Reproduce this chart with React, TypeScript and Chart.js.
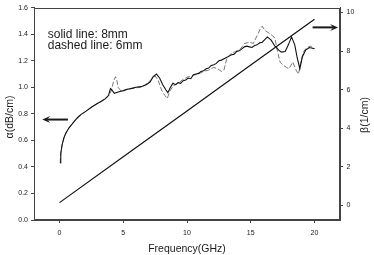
import React, { useEffect, useRef } from "react";
import { Chart, registerables } from "chart.js";

Chart.register(...registerables);

// Attenuation, 8 mm sample (solid)
const solidFreq = [
  0.05, 0.1, 0.2, 0.35, 0.5, 0.75, 1.0, 1.25, 1.5, 1.75, 2.0, 2.5, 3.0, 3.3, 3.6, 3.85,
  4.0, 4.15, 4.3, 4.6, 5.0, 5.3, 5.6, 6.0, 6.4, 6.8, 7.1, 7.35, 7.6, 7.85, 8.1, 8.35,
  8.5, 8.7, 8.9, 9.1, 9.3, 9.5, 9.7, 9.9, 10.1, 10.3, 10.5, 10.7, 10.9, 11.1, 11.3, 11.5,
  11.7, 11.9, 12.1, 12.3, 12.5, 12.7, 12.9, 13.1, 13.3, 13.5, 13.7, 13.9, 14.1, 14.3,
  14.5, 14.7, 14.9, 15.1, 15.3, 15.5, 15.7, 15.9, 16.1, 16.3, 16.6,
  16.9, 17.2, 17.4, 17.7, 17.95, 18.2, 18.45, 18.65, 18.85, 19.05, 19.3, 19.6, 20.0,
];
const solidAlpha = [
  0.43, 0.5, 0.565, 0.62, 0.655, 0.695, 0.725, 0.755, 0.78, 0.8, 0.815, 0.85, 0.88, 0.895, 0.915, 0.94,
  0.99, 0.975, 0.955, 0.965, 0.975, 0.985, 0.99, 1.0, 1.005, 1.02, 1.04, 1.08, 1.1, 1.07, 1.02, 0.98,
  0.96, 1.0, 1.03, 1.02, 1.035, 1.03, 1.05, 1.055, 1.07, 1.065, 1.095, 1.1, 1.105, 1.12, 1.125, 1.14,
  1.145, 1.165, 1.17, 1.18, 1.2, 1.205, 1.215, 1.225, 1.235, 1.245, 1.25, 1.27, 1.275, 1.29,
  1.305, 1.31, 1.305, 1.3, 1.315, 1.32, 1.335, 1.34, 1.36, 1.38, 1.355,
  1.31, 1.28, 1.265, 1.27, 1.32, 1.38, 1.32, 1.22, 1.14, 1.23, 1.28, 1.3, 1.29,
];

// Attenuation, 6 mm sample (dashed)
const dashedFreq = [
  0.05, 0.1, 0.2, 0.35, 0.5, 0.75, 1.0, 1.5, 2.0, 2.5, 3.0, 3.5, 3.85, 4.05, 4.25, 4.4,
  4.5, 4.6, 4.8, 5.1, 5.5, 6.0, 6.5, 6.9, 7.2, 7.5, 7.75, 8.0, 8.25, 8.45, 8.65, 8.9,
  9.3, 9.7, 10.1, 10.5, 10.9, 11.3, 11.7, 12.1, 12.4, 12.7, 12.9, 13.1, 13.4, 13.8, 14.2,
  14.5, 14.9, 15.2, 15.5, 15.75, 15.9, 16.1, 16.4, 16.7, 16.9, 17.1, 17.3, 17.5, 17.8,
  18.0, 18.3, 18.55, 18.75, 18.95, 19.15, 19.4, 19.7, 20.0,
];
const dashedAlpha = [
  0.43, 0.5, 0.565, 0.62, 0.655, 0.695, 0.725, 0.78, 0.815, 0.85, 0.88, 0.91, 0.935, 0.97, 1.05, 1.08,
  1.05, 1.0, 0.975, 0.975, 0.99, 0.995, 1.005, 1.03, 1.06, 1.085, 1.05, 0.98, 0.94, 0.915, 0.97, 1.01,
  1.03, 1.06, 1.08, 1.09, 1.1, 1.12, 1.13, 1.15, 1.14, 1.12, 1.13, 1.21, 1.25, 1.27, 1.29,
  1.33, 1.34, 1.33, 1.39, 1.44, 1.46, 1.43, 1.41, 1.39, 1.37, 1.27, 1.19, 1.17, 1.15,
  1.14, 1.19, 1.13, 1.1, 1.2, 1.27, 1.3, 1.31, 1.29,
];

// Phase constant (right axis)
const betaFreq = [0, 5, 10, 15, 20];
const betaValues = [0.15, 2.53, 4.9, 7.28, 9.65];

const xTicks = [0, 5, 10, 15, 20];
const alphaTicks = [0, 0.2, 0.4, 0.6, 0.8, 1.0, 1.2, 1.4, 1.6];
const betaTicks = [0, 2, 4, 6, 8, 10];

const noteLines = ["solid line: 8mm", "dashed line: 6mm"];

const FONT = '"Liberation Sans", Arial, sans-serif';
const AXIS = "#444";
const INK = "#1a1a1a";

const pts = (xs: number[], ys: number[]) => xs.map((x, i) => ({ x, y: ys[i] }));

function arrow(ctx: CanvasRenderingContext2D, x0: number, x1: number, y: number) {
  // shaft from x0 to tip at x1
  const dir = Math.sign(x1 - x0);
  const head = 8;
  ctx.beginPath();
  ctx.moveTo(x0, y);
  ctx.lineTo(x1 - dir * head * 0.6, y);
  ctx.lineWidth = 2;
  ctx.stroke();
  ctx.beginPath();
  ctx.moveTo(x1, y);
  ctx.lineTo(x1 - dir * head, y - 3.5);
  ctx.lineTo(x1 - dir * head * 0.6, y);
  ctx.lineTo(x1 - dir * head, y + 3.5);
  ctx.closePath();
  ctx.fill();
}

const decorations = {
  id: "decorations",
  afterDraw(chart: any) {
    const { ctx, chartArea, scales } = chart;
    const x = scales.x;
    const ya = scales.yA;
    const yb = scales.yB;
    ctx.save();
    // frame around the plot area
    ctx.strokeStyle = AXIS;
    ctx.lineWidth = 1;
    ctx.strokeRect(
      Math.round(chartArea.left) + 0.5,
      Math.round(chartArea.top) + 0.5,
      Math.round(chartArea.right - chartArea.left) - 1,
      Math.round(chartArea.bottom - chartArea.top) - 1
    );

    // sample notes
    ctx.fillStyle = INK;
    ctx.font = `12px ${FONT}`;
    ctx.textBaseline = "middle";
    ctx.textAlign = "left";
    const nx = x.getPixelForValue(-0.92);
    ctx.fillText(noteLines[0], nx, ya.getPixelForValue(1.4));
    ctx.fillText(noteLines[1], nx, ya.getPixelForValue(1.31));

    // arrows pointing at the matching axes
    ctx.strokeStyle = INK;
    ctx.fillStyle = INK;
    arrow(ctx, x.getPixelForValue(0.66), x.getPixelForValue(-1.35), ya.getPixelForValue(0.757));
    arrow(ctx, x.getPixelForValue(19.85), x.getPixelForValue(21.85), yb.getPixelForValue(9.23));

    // axis titles, both reading bottom to top
    ctx.font = `10.5px ${FONT}`;
    ctx.fillStyle = INK;
    ctx.textAlign = "center";
    ctx.save();
    ctx.translate(10, 117);
    ctx.rotate(-Math.PI / 2);
    ctx.fillText("α(dB/cm)", 0, 0);
    ctx.restore();
    ctx.translate(365, 115);
    ctx.rotate(-Math.PI / 2);
    ctx.fillText("β(1/cm)", 0, 0);
    ctx.restore();
  },
};

export default function App() {
  const ref = useRef<HTMLCanvasElement | null>(null);

  useEffect(() => {
    if (!ref.current) return;
    const tickFont = { family: FONT, size: 7 };
    const chart = new Chart(ref.current, {
      type: "line",
      data: {
        datasets: [
          {
            label: "8mm",
            data: pts(solidFreq, solidAlpha),
            yAxisID: "yA",
            borderColor: "#111",
            borderWidth: 1.1,
            pointRadius: 0,
            tension: 0,
          },
          {
            label: "6mm",
            data: pts(dashedFreq, dashedAlpha),
            yAxisID: "yA",
            borderColor: "#555",
            borderWidth: 0.8,
            borderDash: [5, 2],
            pointRadius: 0,
            tension: 0,
          },
          {
            label: "beta",
            data: pts(betaFreq, betaValues),
            yAxisID: "yB",
            borderColor: "#111",
            borderWidth: 1.2,
            pointRadius: 0,
            tension: 0,
          },
        ],
      },
      options: {
        responsive: false,
        animation: false,
        layout: { padding: { top: 5, left: 0, right: 0, bottom: 0 } },
        plugins: { legend: { display: false }, tooltip: { enabled: false } },
        scales: {
          x: {
            type: "linear",
            min: -2,
            max: 22,
            afterBuildTicks: (s: any) => {
              s.ticks = xTicks.map((v) => ({ value: v }));
            },
            afterFit: (s: any) => {
              s.height = 35;
            },
            grid: { drawOnChartArea: false, drawTicks: true, tickLength: 3, color: AXIS },
            border: { display: true, color: AXIS },
            ticks: { font: tickFont, color: INK, padding: 6, maxRotation: 0 },
            title: {
              display: true,
              text: "Frequency(GHz)",
              font: { family: FONT, size: 10.5 },
              color: INK,
              padding: 0,
            },
          },
          yA: {
            type: "linear",
            position: "left",
            min: 0,
            max: 1.6,
            afterBuildTicks: (s: any) => {
              s.ticks = alphaTicks.map((v) => ({ value: v }));
            },
            afterFit: (s: any) => {
              s.width = 34;
            },
            grid: { drawOnChartArea: false, drawTicks: true, tickLength: 3, color: AXIS },
            border: { display: true, color: AXIS },
            ticks: {
              font: tickFont,
              color: INK,
              padding: 3,
              callback: (v: any) => Number(v).toFixed(1),
            },
          },
          yB: {
            type: "linear",
            position: "right",
            min: -0.75,
            max: 10.25,
            afterBuildTicks: (s: any) => {
              s.ticks = betaTicks.map((v) => ({ value: v }));
            },
            afterFit: (s: any) => {
              s.width = 34;
            },
            grid: { drawOnChartArea: false, drawTicks: true, tickLength: 3, color: AXIS },
            border: { display: true, color: AXIS },
            ticks: { font: tickFont, color: INK, padding: 3.5 },
          },
        },
      },
      plugins: [decorations],
    });
    return () => chart.destroy();
  }, []);

  return (
    <div style={{ position: "fixed", left: 0, top: 0, width: 374, height: 255, background: "#fff" }}>
      <canvas ref={ref} width={374} height={255} />
    </div>
  );
}
